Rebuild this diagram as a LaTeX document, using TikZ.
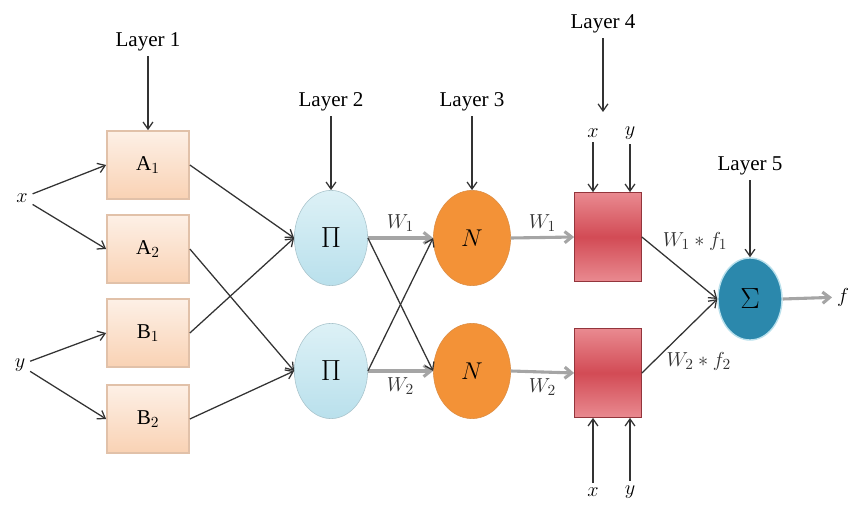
\documentclass[tikz,border=0pt]{standalone}
\usepackage{fontspec}
\setmainfont{Liberation Serif}
\usetikzlibrary{arrows.meta, positioning, shapes.geometric}
\definecolor{peach}{HTML}{F9D2B4}
\definecolor{peachlt}{HTML}{FDF0E6}
\definecolor{skyblue}{HTML}{B9E0EC}
\definecolor{skylt}{HTML}{DDF1F6}
\definecolor{orng}{HTML}{F39237}
\definecolor{ruby}{HTML}{D24B55}
\definecolor{rubylt}{HTML}{E98A90}
\definecolor{teal}{HTML}{2B88AC}
\definecolor{wire}{HTML}{A5A5A5}

\begin{document}
\begin{tikzpicture}[
    x=0.025cm, y=-0.025cm,
    font=\fontsize{15}{18}\selectfont,
    mfbox/.style={draw=peach!80!gray, line width=1.2pt, top color=peachlt, bottom color=peach,
                  minimum width=2.05cm, minimum height=1.7cm, inner sep=0pt},
    prodnode/.style={ellipse, draw=skyblue!70!gray, top color=skylt, bottom color=skyblue,
                     minimum width=1.83cm, minimum height=2.38cm, inner sep=0pt,
                     font=\fontsize{21}{24}\selectfont},
    normnode/.style={ellipse, draw=orng!80!gray, fill=orng,
                     minimum width=1.93cm, minimum height=2.38cm, inner sep=0pt,
                     font=\fontsize{17}{20}\selectfont},
    rulebox/.style={draw=ruby!70!black, top color=rubylt, bottom color=rubylt, middle color=ruby,
                    minimum width=1.68cm, minimum height=2.23cm, inner sep=0pt},
    sumnode/.style={ellipse, draw=skyblue, line width=1pt, fill=teal,
                    minimum width=1.6cm, minimum height=2.05cm, inner sep=0pt,
                    font=\fontsize{21}{24}\selectfont},
    arr/.style={-{Straight Barb[length=5pt, width=7pt]}, line width=0.9pt, black!80},
    garr/.style={-{Straight Barb[length=5pt, width=8pt]}, line width=2.2pt, wire},
]
\useasboundingbox (0,0) rectangle (857,519);

% layer 1
\node[mfbox] (A1) at (148,165) {A$_1$};
\node[mfbox] (A2) at (148,249) {A$_2$};
\node[mfbox] (B1) at (148,333) {B$_1$};
\node[mfbox] (B2) at (148,419) {B$_2$};
\node (x0) at (22,198) {$x$};
\node (y0) at (20,365) {$y$};

% layers 2 and 3
\node[prodnode] (P1) at (331,238) {$\Pi$};
\node[prodnode] (P2) at (331,371) {$\Pi$};
\node[normnode] (N1) at (472,238) {$N$};
\node[normnode] (N2) at (472,371) {$N$};

% layer 4
\node[rulebox] (R1) at (608,237) {};
\node[rulebox] (R2) at (608,373) {};
\node (xt) at (593,133) {$x$};
\node (yt) at (630,133) {$y$};
\node (xb) at (593,492) {$x$};
\node (yb) at (630,492) {$y$};

% layer 5
\node[sumnode] (S) at (750,299) {$\Sigma$};
\node (f) at (843,297) {$f$};

% layer labels
\node (L1) at (148,42) {Layer 1};
\node (L2) at (331,102) {Layer 2};
\node (L3) at (472,102) {Layer 3};
\node (L4) at (603,24) {Layer 4};
\node (L5) at (750,166) {Layer 5};

\draw[arr] (L1) -- (A1);
\draw[arr] (L2) -- (P1);
\draw[arr] (L3) -- (N1);
\draw[arr] (L4) -- (603,112);
\draw[arr] (L5) -- (S);

\draw[arr] (x0) -- (A1.west);
\draw[arr] (x0) -- (A2.west);
\draw[arr] (y0) -- (B1.west);
\draw[arr] (y0) -- (B2.west);

\draw[arr] (A1.east) -- (P1.west);
\draw[arr] (B1.east) -- (P1.west);
\draw[arr] (A2.east) -- (P2.west);
\draw[arr] (B2.east) -- (P2.west);

\draw[garr] (P1.east) -- node[above, black!80] {$W_1$} (N1.west);
\draw[garr] (P2.east) -- node[below, black!80] {$W_2$} (N2.west);
\draw[arr] (P1.east) -- (N2.west);
\draw[arr] (P2.east) -- (N1.west);

\draw[garr] (N1.east) -- node[above, black!80] {$W_1$} (R1.west);
\draw[garr] (N2.east) -- node[below, black!80] {$W_2$} (R2.west);

\draw[arr] (xt) -- (xt |- R1.north);
\draw[arr] (yt) -- (yt |- R1.north);
\draw[arr] (xb) -- (xb |- R2.south);
\draw[arr] (yb) -- (yb |- R2.south);

\draw[arr] (R1.east) -- node[pos=0.25, anchor=south west, inner sep=1pt] {$W_1 * f_1$} (S.west);
\draw[arr] (R2.east) -- node[pos=0.3, anchor=north west, inner sep=1pt] {$W_2 * f_2$} (S.west);
\draw[garr] (S.east) -- (f);
\end{tikzpicture}
\end{document}
